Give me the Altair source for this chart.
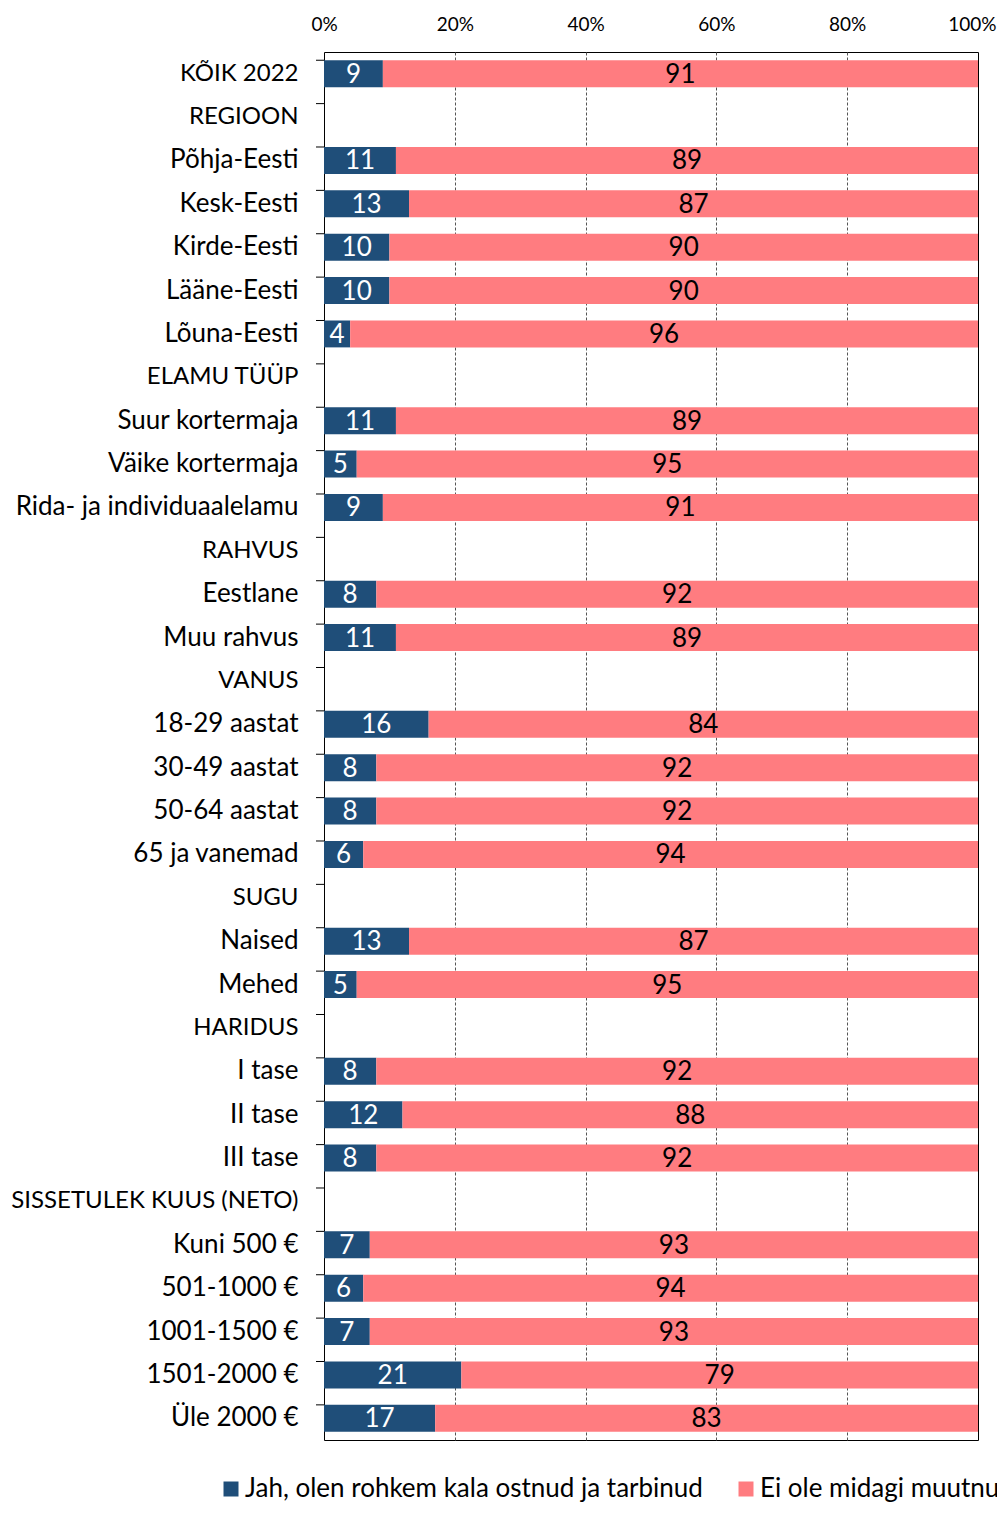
import altair as alt
import pandas as pd

categories = [
    "KÕIK 2022", "REGIOON", "Põhja-Eesti", "Kesk-Eesti", "Kirde-Eesti", "Lääne-Eesti",
    "Lõuna-Eesti", "ELAMU TÜÜP", "Suur kortermaja", "Väike kortermaja",
    "Rida- ja individuaalelamu", "RAHVUS", "Eestlane", "Muu rahvus", "VANUS",
    "18-29 aastat", "30-49 aastat", "50-64 aastat", "65 ja vanemad", "SUGU", "Naised",
    "Mehed", "HARIDUS", "I tase", "II tase", "III tase", "SISSETULEK KUUS (NETO)",
    "Kuni 500 €", "501-1000 €", "1001-1500 €", "1501-2000 €", "Üle 2000 €",
]
bar_categories = [
    "KÕIK 2022", "Põhja-Eesti", "Kesk-Eesti", "Kirde-Eesti", "Lääne-Eesti", "Lõuna-Eesti",
    "Suur kortermaja", "Väike kortermaja", "Rida- ja individuaalelamu", "Eestlane",
    "Muu rahvus", "18-29 aastat", "30-49 aastat", "50-64 aastat", "65 ja vanemad",
    "Naised", "Mehed", "I tase", "II tase", "III tase", "Kuni 500 €", "501-1000 €",
    "1001-1500 €", "1501-2000 €", "Üle 2000 €",
]
yes_values = [9, 11, 13, 10, 10, 4, 11, 5, 9, 8, 11, 16, 8, 8, 6, 13, 5, 8, 12, 8, 7, 6, 7, 21, 17]
no_values = [91, 89, 87, 90, 90, 96, 89, 95, 91, 92, 89, 84, 92, 92, 94, 87, 95, 92, 88, 92, 93, 94, 93, 79, 83]
series_names = ["Jah, olen rohkem kala ostnud ja tarbinud", "Ei ole midagi muutnud"]
colors = ["#1F4E79", "#FF7C80"]
x_ticks = [0, 20, 40, 60, 80, 100]

rows = []
for c, y, n in zip(bar_categories, yes_values, no_values):
    rows.append(dict(cat=c, series=series_names[0], value=y, start=0, end=y, mid=y / 2))
    rows.append(dict(cat=c, series=series_names[1], value=n, start=y, end=y + n, mid=y + n / 2))
df = pd.DataFrame(rows)
ticks_df = pd.DataFrame({"cat": categories})

FONT = "Lato"

yscale = alt.Scale(domain=categories, paddingInner=0.38, paddingOuter=0.19)
xscale = alt.Scale(domain=[0, 100], nice=False, zero=True)

y_axis = alt.Axis(
    title=None, ticks=False, domain=False, labelFont=FONT,
    labelFontSize={
        "condition": {
            "test": "datum.value === upper(datum.value) && datum.value !== lower(datum.value)",
            "value": 24,
        },
        "value": 26,
    },
    labelColor="black", labelPadding=26, labelLimit=400,
)
x_axis = alt.Axis(
    orient="top", title=None, values=x_ticks, labelExpr="datum.value + '%'",
    ticks=False, domain=False, grid=True, gridDash=[3, 2], labelFlush=False,
    gridColor={"condition": {"test": "datum.value === 0 || datum.value === 100", "value": "transparent"}, "value": "#555555"},
    labelAlign={"condition": {"test": "datum.value === 100", "value": "right"}, "value": "center"},
    labelOffset={"condition": {"test": "datum.value === 100", "value": 18}, "value": 0},
    labelFont=FONT, labelFontSize=19, labelColor="black", labelPadding=18,
)

bars = alt.Chart(df).mark_bar().encode(
    y=alt.Y("cat:N", scale=yscale, axis=y_axis),
    x=alt.X("start:Q", scale=xscale, axis=x_axis),
    x2="end:Q",
    color=alt.Color(
        "series:N",
        scale=alt.Scale(domain=series_names, range=colors),
        legend=alt.Legend(
            title=None, orient="none", legendX=-106, legendY=1424, direction="horizontal",
            symbolType="square", symbolSize=225, symbolStrokeWidth=0,
            labelFont=FONT, labelFontSize=26, labelColor="black", labelLimit=700,
            labelOffset=1, columnPadding=30,
        ),
    ),
)

text_yes = alt.Chart(df).transform_filter(
    alt.datum.series == series_names[0]
).mark_text(font=FONT, fontSize=26, color="white", baseline="middle", dy=1).encode(
    y=alt.Y("cat:N", scale=yscale, axis=y_axis),
    x=alt.X("mid:Q", scale=xscale, axis=x_axis),
    text="value:Q",
)
text_no = alt.Chart(df).transform_filter(
    alt.datum.series == series_names[1]
).mark_text(font=FONT, fontSize=26, color="black", baseline="middle", dy=1).encode(
    y=alt.Y("cat:N", scale=yscale, axis=y_axis),
    x=alt.X("mid:Q", scale=xscale, axis=x_axis),
    text="value:Q",
)

tick_rules = alt.Chart(ticks_df).mark_rule(color="black", strokeWidth=1).encode(
    y=alt.Y("cat:N", scale=yscale, axis=y_axis, bandPosition=0),
    x=alt.value(-8),
    x2=alt.value(0),
)

chart = alt.layer(bars, text_yes, text_no, tick_rules).properties(
    width=654,
    height=1388,
    padding={"left": 316, "top": 44, "right": 19, "bottom": 64},
    autosize=alt.AutoSizeParams(type="none"),
).configure_view(stroke="black", strokeWidth=1)

chart.save("out.html", embed_options={"renderer": "svg", "actions": False})
